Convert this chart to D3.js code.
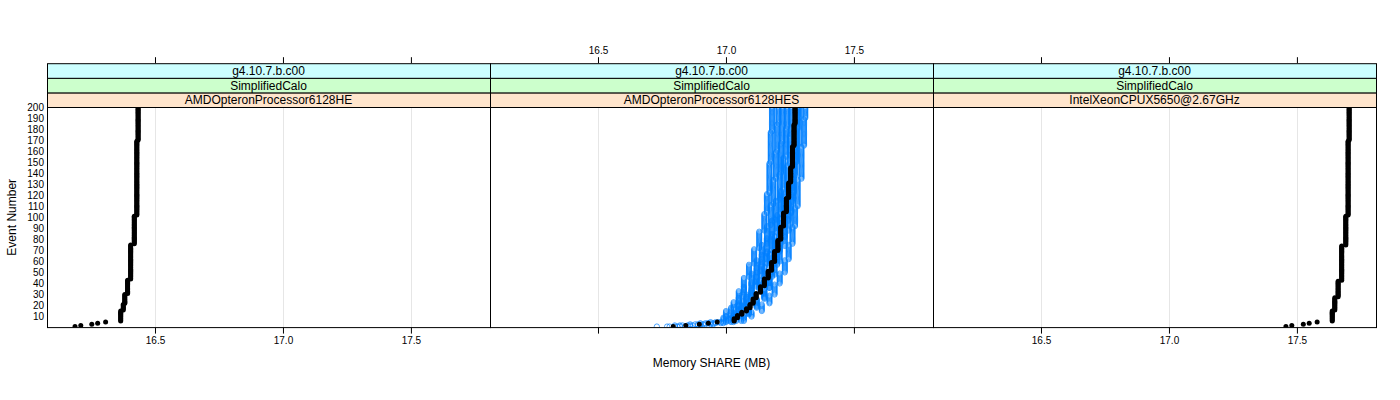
<!DOCTYPE html>
<html><head><meta charset="utf-8">
<script src="https://cdn.jsdelivr.net/npm/d3@7"></script>
<style>
body{margin:0;background:#fff}
svg{display:block}
text{font-family:"Liberation Sans",Arial,Helvetica,sans-serif;fill:#000}
</style>
</head><body>
<svg id="chart" width="1400" height="400"></svg>
<script>
// ---------------- data ----------------
const panelNames = ["AMDOpteronProcessor6128HE", "AMDOpteronProcessor6128HES", "IntelXeonCPUX5650@2.67GHz"];
const stripApp = "SimplifiedCalo";
const stripVersion = "g4.10.7.b.c00";
const xTicks = [16.5, 17.0, 17.5];
const xTickLabels = ["16.5", "17.0", "17.5"];
const yTicks = [10, 20, 30, 40, 50, 60, 70, 80, 90, 100, 110, 120, 130, 140, 150, 160, 170, 180, 190, 200];
const xLimits = [16.078, 17.809];
const yLimits = [0, 200];
const eventCount = 200;
const xTitle = "Memory SHARE (MB)";
const yTitle = "Event Number";

// step data: [first event, value] — value holds until next entry
const blackLeft = [[1,16.1875],[2,16.210],[3,16.253],[4,16.276],[5,16.307],[6,16.366],[16,16.376],[22,16.382],[31,16.393],[44,16.405],[76,16.419],[102,16.429],[170,16.434]];
const blackMiddle = [[1,16.794],[2,16.843],[3,16.896],[4,16.931],[5,16.966],[6,17.032],[9,17.045],[12,17.062],[15,17.080],[18,17.094],[22,17.106],[27,17.118],[32,17.135],[38,17.150],[45,17.165],[52,17.178],[60,17.190],[70,17.203],[80,17.214],[92,17.225],[105,17.236],[118,17.245],[132,17.253],[146,17.260],[165,17.266],[185,17.270]];
const blackRight = [[1,17.457],[2,17.480],[3,17.525],[4,17.548],[5,17.579],[6,17.638],[16,17.648],[28,17.661],[43,17.675],[75,17.691],[102,17.700],[170,17.704]];

const blueA = [[1,16.73],[2,16.80],[3,16.86],[4,16.90],[5,16.94],[6,16.99],[10,17.00],[16,17.03],[24,17.05],[34,17.07],[46,17.09],[58,17.11],[72,17.13],[88,17.15],[104,17.16],[122,17.17],[150,17.175],[178,17.18]];
const blueB = [[1,16.77],[2,16.82],[3,16.88],[4,16.92],[5,16.96],[6,17.00],[11,17.02],[19,17.05],[28,17.07],[38,17.10],[50,17.12],[62,17.14],[76,17.16],[93,17.175],[112,17.185],[135,17.195],[160,17.20],[185,17.205]];
const blueC = [[1,16.78],[2,16.83],[3,16.89],[4,16.93],[5,16.97],[6,17.01],[9,17.03],[14,17.05],[22,17.08],[31,17.10],[42,17.12],[55,17.14],[67,17.16],[82,17.18],[98,17.195],[116,17.21],[140,17.215],[168,17.22]];
const blueD = [[1,16.80],[2,16.85],[3,16.90],[4,16.94],[5,16.98],[6,17.02],[10,17.04],[15,17.06],[21,17.08],[29,17.10],[37,17.12],[47,17.14],[58,17.16],[70,17.18],[86,17.20],[103,17.215],[125,17.225],[155,17.235],[182,17.24]];
const blueE = [[1,16.81],[2,16.86],[3,16.91],[4,16.95],[5,16.99],[6,17.03],[12,17.05],[17,17.07],[25,17.10],[35,17.13],[44,17.15],[56,17.17],[68,17.19],[84,17.21],[100,17.225],[120,17.24],[148,17.25],[175,17.255]];
const blueF = [[1,16.82],[2,16.87],[3,16.92],[4,16.96],[5,17.00],[6,17.04],[9,17.07],[13,17.09],[19,17.12],[27,17.15],[36,17.17],[46,17.18],[57,17.20],[69,17.21],[82,17.23],[97,17.245],[114,17.26],[138,17.27],[165,17.28],[190,17.285]];
const blueG = [[1,16.86],[2,16.90],[3,16.95],[4,16.99],[5,17.03],[6,17.07],[10,17.10],[15,17.14],[22,17.17],[30,17.19],[40,17.21],[50,17.23],[62,17.245],[76,17.26],[92,17.27],[110,17.28],[135,17.295],[165,17.305],[190,17.31]];
const blueH = [[1,16.84],[2,16.89],[3,16.94],[4,16.98],[5,17.02],[6,17.06],[12,17.09],[18,17.12],[26,17.15],[36,17.17],[48,17.19],[60,17.21],[74,17.23],[88,17.245],[104,17.255],[122,17.265],[150,17.275],[180,17.28]];

const panelBlack = [blackLeft, blackMiddle, blackRight];
const panelBlue = [[], [blueA, blueB, blueC, blueD, blueE, blueF, blueG, blueH], []];

const stripColors = ["#ffe5cc", "#ccffcc", "#ccffff"];
const blueCol = "#0080ff";

// ---------------- layout ----------------
const panelX0 = 47, panelW = 443, plotTop = 107, plotBottom = 327.6;
const stripH = 14.6;
const svg = d3.select("#chart");

function expand(runs) {
  const out = [];
  let k = 0;
  for (let ev = 1; ev <= eventCount; ev++) {
    while (k + 1 < runs.length && runs[k + 1][0] <= ev) k++;
    out.push({ev: ev, v: runs[k][1]});
  }
  return out;
}

const y = d3.scaleLinear().domain(yLimits).range([plotBottom, plotTop]);
const defs = svg.append("defs");

panelNames.forEach((name, i) => {
  const left = panelX0 + i * panelW;
  const x = d3.scaleLinear().domain(xLimits).range([left, left + panelW]);
  const g = svg.append("g");

  defs.append("clipPath").attr("id", "clip" + i)
    .append("rect").attr("x", left).attr("y", plotTop).attr("width", panelW).attr("height", plotBottom - plotTop);

  g.append("g").selectAll("line").data(xTicks).join("line")
    .attr("x1", d => Math.round(x(d)) + 0.5).attr("x2", d => Math.round(x(d)) + 0.5)
    .attr("y1", plotTop).attr("y2", plotBottom)
    .attr("stroke", "#e6e6e6").attr("stroke-width", 1);

  const data = g.append("g").attr("clip-path", "url(#clip" + i + ")");
  panelBlue[i].forEach(run => {
    data.append("g").selectAll("circle").data(expand(run)).join("circle")
      .attr("cx", d => x(d.v)).attr("cy", d => y(d.ev)).attr("r", 2.6)
      .attr("fill", "none").attr("stroke", blueCol).attr("stroke-width", 0.7);
  });
  data.append("g").selectAll("circle").data(expand(panelBlack[i])).join("circle")
    .attr("cx", d => x(d.v)).attr("cy", d => y(d.ev)).attr("r", 2.5)
    .attr("fill", "#000");

  g.append("rect").attr("x", left + 0.5).attr("y", plotTop + 0.5)
    .attr("width", panelW).attr("height", plotBottom - plotTop - 0.5)
    .attr("fill", "none").attr("stroke", "#000").attr("stroke-width", 1);

  const stripLabels = [name, stripApp, stripVersion];
  stripLabels.forEach((lab, s) => {
    const sy = plotTop - (s + 1) * stripH;
    g.append("rect").attr("x", left + 0.5).attr("y", sy + 0.5).attr("width", panelW).attr("height", stripH)
      .attr("fill", stripColors[s]).attr("stroke", "#000").attr("stroke-width", 1);
    g.append("text").attr("x", left + panelW / 2).attr("y", sy + stripH / 2 + 0.5)
      .attr("text-anchor", "middle").attr("dominant-baseline", "central")
      .attr("font-size", "12px").text(lab);
  });

  const bottomAxis = d3.axisBottom(x).tickValues(xTicks).tickSize(6).tickPadding(3)
    .tickFormat((d, j) => (i === 1 ? "" : xTickLabels[j]));
  const ba = g.append("g").attr("transform", `translate(0,${plotBottom})`).call(bottomAxis);
  ba.select(".domain").remove();
  ba.selectAll("text").attr("font-size", "10px").attr("font-family", "Liberation Sans, Arial, sans-serif");

  const stripTop = plotTop - 3 * stripH;
  const topAxis = d3.axisTop(x).tickValues(xTicks).tickSize(6).tickPadding(3)
    .tickFormat((d, j) => (i === 1 ? xTickLabels[j] : ""));
  const ta = g.append("g").attr("transform", `translate(0,${stripTop})`).call(topAxis);
  ta.select(".domain").remove();
  ta.selectAll("text").attr("font-size", "10px").attr("font-family", "Liberation Sans, Arial, sans-serif");
});

const yAxis = d3.axisLeft(y).tickValues(yTicks).tickSize(0).tickPadding(3);
const ya = svg.append("g").attr("transform", `translate(${panelX0},0)`).call(yAxis);
ya.select(".domain").remove();
ya.selectAll("text").attr("font-size", "10px").attr("font-family", "Liberation Sans, Arial, sans-serif");

svg.append("text").attr("x", panelX0 + 1.5 * panelW).attr("y", 367)
  .attr("text-anchor", "middle").attr("font-size", "12px").text(xTitle);
svg.append("text").attr("transform", `translate(16,${(plotTop + plotBottom) / 2}) rotate(-90)`)
  .attr("text-anchor", "middle").attr("font-size", "12px").text(yTitle);
</script>
</body></html>
